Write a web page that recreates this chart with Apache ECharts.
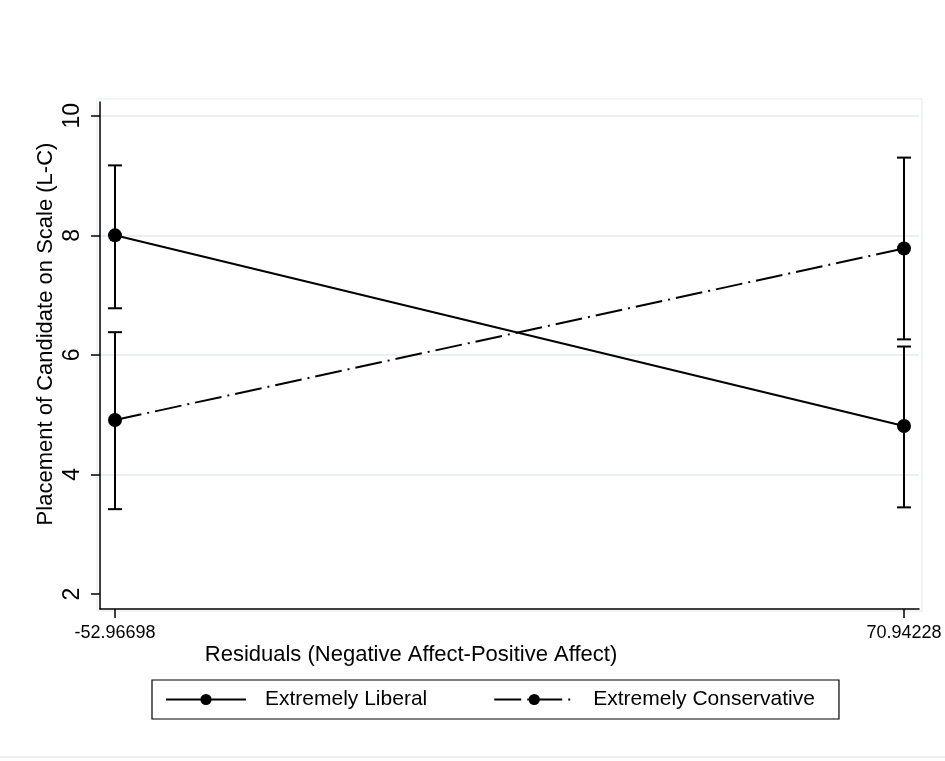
<!DOCTYPE html>
<html><head><meta charset="utf-8">
<script src="https://cdn.jsdelivr.net/npm/echarts@6/dist/echarts.min.js"></script>
<style>html,body{margin:0;padding:0;background:#fff}#c{width:945px;height:761px}</style>
</head><body><div id="c"></div>
<script>
const xPositions = [-52.96698, 70.94228];
const xTickLabels = ['-52.96698', '70.94228'];
const yTickValues = [2, 4, 6, 8, 10];
const gridValues = [4, 6, 8, 10];
const seriesNames = ['Extremely Liberal', 'Extremely Conservative'];
const liberalMean = [8.00, 4.81];
const liberalLow = [6.78, 3.45];
const liberalHigh = [9.17, 6.14];
const conservativeMean = [4.91, 7.78];
const conservativeLow = [3.42, 6.26];
const conservativeHigh = [6.38, 9.30];
const xTitle = 'Residuals (Negative Affect-Positive Affect)';
const yTitle = 'Placement of Candidate on Scale (L-C)';

const FONT = '"Liberation Sans", Arial, Helvetica, sans-serif';
const chart = echarts.init(document.getElementById('c'), null, {renderer: 'canvas'});

function pts(means) { return xPositions.map((x, i) => [x, means[i]]); }
function bars(lo, hi) { return xPositions.map((x, i) => [x, lo[i], hi[i]]); }

function renderBar(params, api) {
  const x = api.value(0), lo = api.value(1), hi = api.value(2);
  const a = api.coord([x, lo]), b = api.coord([x, hi]);
  const w = 7;
  const st = {stroke: '#000', lineWidth: 2};
  return {type: 'group', children: [
    {type: 'line', shape: {x1: a[0], y1: a[1], x2: b[0], y2: b[1]}, style: st},
    {type: 'line', shape: {x1: a[0] - w, y1: a[1], x2: a[0] + w, y2: a[1]}, style: st},
    {type: 'line', shape: {x1: b[0] - w, y1: b[1], x2: b[0] + w, y2: b[1]}, style: st}
  ]};
}

const option = {
  animation: false,
  backgroundColor: '#fff',
  textStyle: {fontFamily: FONT},
  grid: {left: 100, right: 26, top: 102, bottom: 152, containLabel: false},
  xAxis: {
    type: 'value', min: -55.32, max: 73.30,
    axisLine: {show: true, onZero: false, lineStyle: {color: '#000', width: 1.5}},
    axisTick: {show: true, customValues: xPositions, length: 9, lineStyle: {color: '#000', width: 1.5}},
    axisLabel: {show: true, customValues: xPositions, margin: 15, fontSize: 18, color: '#000', fontFamily: FONT,
      formatter: v => { let k = 0; xPositions.forEach((p, i) => { if (Math.abs(p - v) < Math.abs(xPositions[k] - v)) k = i; }); return xTickLabels[k]; }},
    splitLine: {show: false}
  },
  yAxis: {
    type: 'value', min: 1.75, max: 10.23,
    axisLine: {show: true, onZero: false, lineStyle: {color: '#000', width: 1.5}},
    axisTick: {show: true, customValues: yTickValues, length: 9, lineStyle: {color: '#000', width: 1.5}},
    axisLabel: {show: true, customValues: yTickValues, rotate: 90, margin: 16, fontSize: 23, color: '#000', fontFamily: FONT},
    splitLine: {show: false}
  },
  legend: {
    show: true, data: seriesNames, orient: 'horizontal', left: 152, top: 680,
    borderColor: '#000', borderWidth: 1.2, padding: [9, 24, 9, 13],
    itemWidth: 80, itemHeight: 14, itemGap: 66,
    textStyle: {fontSize: 21, color: '#000', fontFamily: FONT, padding: [0, 0, 0, 14]}
  },
  graphic: [
    {type: 'rect', shape: {x: 97, y: 99, width: 825, height: 512}, style: {fill: 'none', stroke: '#eef1f3', lineWidth: 1.5}, z: -10, silent: true},
    {type: 'line', shape: {x1: 0, y1: 757, x2: 945, y2: 757}, style: {stroke: '#eef0f2', lineWidth: 2}, silent: true},
    {type: 'text', x: 411, y: 655, style: {text: xTitle, font: '22px ' + FONT, fill: '#000', textAlign: 'center', textVerticalAlign: 'middle'}},
    {type: 'text', x: 46, y: 334, rotation: Math.PI / 2, style: {text: yTitle, font: '22px ' + FONT, fill: '#000', textAlign: 'center', textVerticalAlign: 'middle'}}
  ],
  series: [
    {type: 'custom', name: 'Liberal CI', renderItem: renderBar, data: bars(liberalLow, liberalHigh), z: 1, silent: true},
    {type: 'custom', name: 'Conservative CI', renderItem: renderBar, data: bars(conservativeLow, conservativeHigh), z: 1, silent: true},
    {type: 'line', name: seriesNames[0], data: pts(liberalMean), z: 3,
      symbol: 'circle', symbolSize: 14, itemStyle: {color: '#000'},
      lineStyle: {color: '#000', width: 2, type: 'solid'},
      markLine: {silent: true, symbol: 'none', label: {show: false}, z: 0,
        lineStyle: {color: '#e3ebee', width: 1.5, type: 'solid'},
        data: gridValues.map(v => ({yAxis: v}))}},
    {type: 'line', name: seriesNames[1], data: pts(conservativeMean), z: 3,
      symbol: 'circle', symbolSize: 14, itemStyle: {color: '#000'},
      lineStyle: {color: '#000', width: 2, type: [27, 6, 2, 6]}}
  ]
};
chart.setOption(option);
</script>
</body></html>
